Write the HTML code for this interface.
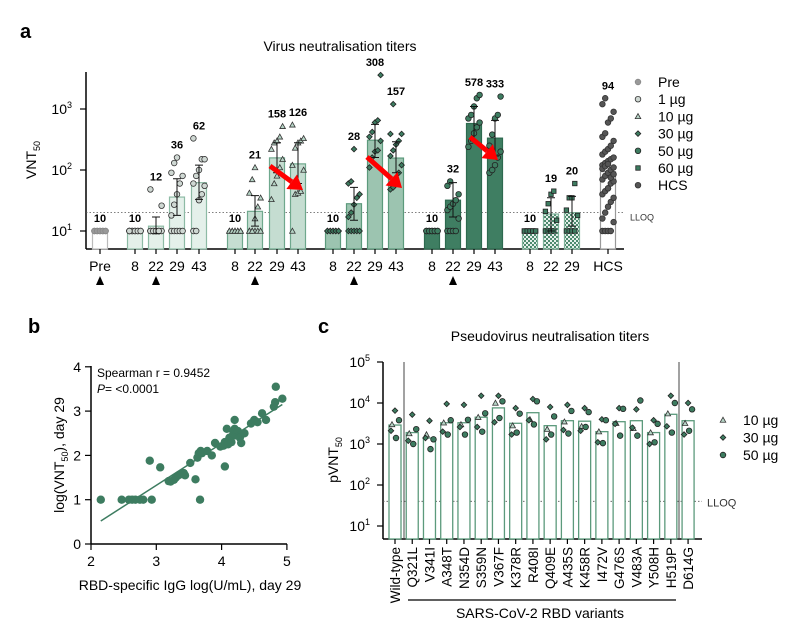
<!DOCTYPE html>
<html><head><meta charset="utf-8"><style>
body{margin:0;background:#fff}
svg{display:block;font-family:"Liberation Sans",sans-serif}
</style></head><body>
<svg id="fig" width="795" height="640" viewBox="0 0 795 640">
<defs>
<pattern id="chk" width="4" height="4" patternUnits="userSpaceOnUse"><rect width="4" height="4" fill="#e6f0eb"/><rect width="2" height="2" fill="#4d8a6e"/><rect x="2" y="2" width="2" height="2" fill="#4d8a6e"/></pattern>
</defs>
<text x="20" y="38" font-size="20" font-weight="bold">a</text>
<text x="340" y="51" font-size="14" text-anchor="middle">Virus neutralisation titers</text>
<text x="28" y="333" font-size="20" font-weight="bold">b</text>
<text x="318" y="333" font-size="20" font-weight="bold">c</text>
<text x="550" y="341" font-size="14" text-anchor="middle">Pseudovirus neutralisation titers</text>
<g id="ga"></g>
<g id="gb"></g>
<g id="gc"></g>
</svg>
<script>
// ---------- Panel a data ----------
const aDays = ["Pre","8","22","29","43","8","22","29","43","8","22","29","43","8","22","29","43","8","22","29","HCS"];
const aGroups = ["pre","1","1","1","1","10","10","10","10","30","30","30","30","50","50","50","50","60","60","60","hcs"];
const aMeans = [10,10,12,36,62,10,21,158,126,10,28,308,157,10,32,578,333,10,19,20,94];
const aErrLo = [10,10,9,18,33,10,12,90,60,10,15,160,90,10,17,300,170,10,10,12,null];
const aErrHi = [10,10,17,72,120,10,38,280,280,10,52,560,290,10,62,1100,650,10,35,37,null];
const aPoints = [
 [10,10,10,10,10,10,10,10,10,10],
 [10,10,10,10,10,10,10,10,10,10,10],
 [10,10,10,10,10,10,10,10,10,26,48],
 [10,10,10,10,10,18,27,40,60,80,90,130,160],
 [10,10,32,40,55,60,80,100,150,150,330],
 [10,10,10,10,10,10,10,10,10,10],
 [10,10,10,10,10,10,10,16,25,35,42,70,110],
 [33,60,80,110,150,220,280,300,350,520],
 [10,40,42,45,100,120,230,280,300,330,550],
 [10,10,10,10,10,10,10,10,10,10],
 [10,10,10,10,10,17,20,27,35,40,60,65,220],
 [110,160,200,210,300,350,420,600,650,3600],
 [48,52,70,90,120,170,210,260,300,390,390,1200],
 [10,10,10,10,10,10,10,10,10,10],
 [10,10,10,10,16,22,25,28,32,40,55,65],
 [240,300,400,500,600,700,800,1100,1500,1700],
 [90,100,120,160,200,250,380,700,800,1600],
 [10,10,10,10,10,10,10,10,10,10],
 [10,10,10,10,15,21,28,40,45],
 [10,10,10,10,18,22,35,35,60],
 [10,10,10,10,14,16,20,25,30,35,40,45,50,60,65,70,80,90,100,110,120,130,140,150,160,180,200,220,250,300,350,400,600,700,900,1200,1500,50,75,85,105,115,125]
];
const aTicks = [10,100,1000];
const aTickLabels = ["1","2","3"];
// ---------- Panel b data ----------
const bX = [2.15,2.47,2.58,2.63,2.68,2.75,2.8,2.93,2.9,3.06,3.19,3.22,3.27,3.3,3.34,3.38,3.42,3.44,3.52,3.6,3.63,3.65,3.68,3.7,3.78,3.85,3.9,3.98,4.03,4.05,4.08,4.1,4.12,4.13,4.15,4.18,4.2,4.2,4.22,4.25,4.28,4.3,4.35,4.45,4.5,4.55,4.62,4.68,4.8,4.82,4.83,4.93,3.67,4.05];
const bY = [1,1,1,1,1,1,1,1,1.88,1.73,1.42,1.41,1.45,1.5,1.55,1.58,1.6,1.55,1.83,1.46,1.95,2.05,2.1,2.05,2.1,2,2.28,2.2,2.22,2.3,2.6,2.25,2.4,2.35,2.3,2.5,2.8,2.6,2.45,2.55,2.4,2.28,2.5,2.72,2.8,2.75,2.95,2.8,3.1,3.2,3.55,3.28,1,1.75];
const bFitX = [2.15,4.93];
const bFitY = [0.52,3.15];
// ---------- Panel c data ----------
const cCats = ["Wild-type","Q321L","V341I","A348T","N354D","S359N","V367F","K378R","R408I","Q409E","A435S","K458R","I472V","G476S","V483A","Y508H","H519P","D614G"];
const cBars = [2900,1900,1400,3300,3300,4500,7600,3200,5800,2800,3700,3600,2000,3500,3700,1900,5300,3700];
const c10 = [3000,1800,1700,3300,3000,4500,10000,2800,4000,2300,3500,2700,2000,3200,2400,1900,5500,3200];
const c30a = [6500,5200,3700,9500,9000,15000,15000,7500,12500,8000,9000,7500,4000,7500,7000,3800,15000,10000];
const c30b = [2100,1200,1400,2000,2600,2600,3400,1700,3800,1300,2200,2100,1100,3100,2500,1000,2700,1700];
const c50a = [3800,2300,1300,3800,3900,5600,11000,5500,11000,4700,6400,6000,3800,7200,11500,3100,10000,7000];
const c50b = [1400,1000,750,1700,1700,2000,4300,1900,3000,1700,1800,2600,1050,1600,1600,1100,1900,2100];

const NS="http://www.w3.org/2000/svg";
function mk(parent,tag,attrs,text){const e=document.createElementNS(NS,tag);for(const k in attrs)e.setAttribute(k,attrs[k]);if(text!==undefined)e.textContent=text;parent.appendChild(e);return e;}
function marker(g,shape,x,y,r,fill,stroke){
 if(shape==="tri") return mk(g,"polygon",{points:`${x},${y-r} ${x-r},${y+r*0.8} ${x+r},${y+r*0.8}`,fill:fill,stroke:stroke,"stroke-width":0.8});
 if(shape==="dia") return mk(g,"polygon",{points:`${x},${y-r} ${x+r},${y} ${x},${y+r} ${x-r},${y}`,fill:fill,stroke:stroke,"stroke-width":0.8});
 if(shape==="sq") return mk(g,"rect",{x:x-r*0.8,y:y-r*0.8,width:r*1.6,height:r*1.6,fill:fill,stroke:stroke,"stroke-width":0.8});
 return mk(g,"circle",{cx:x,cy:y,r:r,fill:fill,stroke:stroke,"stroke-width":0.8});
}
// ===== Panel a =====
(function(){
const g=document.getElementById("ga");
const ya=v=>231-(Math.log10(v)-1)*61;
const xa=i=>{const idx=[100,135,156,177,199,235,255,277,298,333,354,375,396,432,453,474,495,530,551,572,608];return idx[i];};
const style={pre:{fill:"#fff",stroke:"#bbb",pf:"#999",ps:"#888",sh:"circle"},
 "1":{fill:"#e4f0ea",stroke:"#8dbba5",pf:"#cfd8d3",ps:"#333",sh:"circle"},
 "10":{fill:"#c5ddd1",stroke:"#6fa88d",pf:"#b6d4c6",ps:"#333",sh:"tri"},
 "30":{fill:"#9cc4b0",stroke:"#5c9a7c",pf:"#3d7c60",ps:"#222",sh:"dia"},
 "50":{fill:"#3f7e62",stroke:"#2d6a4f",pf:"#3d7c60",ps:"#222",sh:"circle"},
 "60":{fill:"url(#chk)",stroke:"#7fb29a",pf:"#3d7c60",ps:"#222",sh:"sq"},
 hcs:{fill:"#fff",stroke:"#999",pf:"#555",ps:"#333",sh:"circle"}};
let ax=mk(g,"line",{x1:86,y1:72,x2:86,y2:249,stroke:"#000","stroke-width":1.5});

let bx=mk(g,"line",{x1:86,y1:249,x2:624,y2:249,stroke:"#000","stroke-width":1.5});

aTicks.forEach((t,i)=>{const y=ya(t);
 mk(g,"line",{x1:80,y1:y,x2:86,y2:y,stroke:"#000","stroke-width":1.2});
 const tx=mk(g,"text",{x:72,y:y+5,"font-size":14,"text-anchor":"end"},"10");
 
 mk(tx,"tspan",{dy:-6,"font-size":9},aTickLabels[i]);
});
const yt=mk(g,"text",{x:0,y:0,"font-size":14,"text-anchor":"middle",transform:"translate(36,160) rotate(-90)"},"VNT");

mk(yt,"tspan",{dy:4,"font-size":9},"50");
const ll=mk(g,"line",{x1:86,y1:ya(20),x2:624,y2:ya(20),stroke:"#555","stroke-width":0.8,"stroke-dasharray":"1.5,2"});

const lt=mk(g,"text",{x:630,y:ya(20)+8,"font-size":9,fill:"#333"},"LLOQ");

aMeans.forEach((m,i)=>{
 const x=xa(i),st=style[aGroups[i]],w=15;
 const b=mk(g,"rect",{x:x-w/2,y:ya(m),width:w,height:249-ya(m),fill:st.fill,stroke:st.stroke,"stroke-width":1.2});
 
 
 const pts=aPoints[i];
 pts.forEach((v,j)=>{
  const off=((j%5)-2)*2.8;
  const p=marker(g,st.sh,x+off,ya(v),2.8,st.pf,st.ps);
  
 });
 if(aErrLo[i]!==null && aErrHi[i]!==aErrLo[i]){
  const e=mk(g,"path",{d:`M${x},${ya(aErrLo[i])}V${ya(aErrHi[i])}M${x-4},${ya(aErrLo[i])}H${x+4}M${x-4},${ya(aErrHi[i])}H${x+4}`,stroke:"#111","stroke-width":1,fill:"none"});
  
 }
 const top=Math.min(ya(m),ya(Math.max(...pts)),aErrHi[i]?ya(aErrHi[i]):999);
 const lbl=mk(g,"text",{x:x,y:top-9,"font-size":11,"font-weight":"bold","text-anchor":"middle"},String(m));
 
 mk(g,"line",{x1:x,y1:249,x2:x,y2:254,stroke:"#000","stroke-width":1.2});
 const dl=mk(g,"text",{x:x,y:271,"font-size":14,"text-anchor":"middle"},aDays[i]);
 
});
[100,156,255,354,453].forEach(x=>{const t=mk(g,"polygon",{points:`${x},${276} ${x-4},${285} ${x+4},${285}`,fill:"#000"});});
[[270,166,303,190],[367,157,402,188],[470,137,498,160]].forEach(a=>{
 const [x1,y1,x2,y2]=a,ang=Math.atan2(y2-y1,x2-x1),L=14;
 const bx2=x2-L*Math.cos(ang),by2=y2-L*Math.sin(ang);
 const s=mk(g,"line",{x1:x1,y1:y1,x2:bx2,y2:by2,stroke:"#f00","stroke-width":5});
 
 const px=-Math.sin(ang)*9,py=Math.cos(ang)*9;
 mk(g,"polygon",{points:`${x2},${y2} ${bx2+px},${by2+py} ${bx2-px},${by2-py}`,fill:"#f00"});
});
const leg=[["Pre","circle","#999","#888"],["1 µg","circle","#cfd8d3","#333"],["10 µg","tri","#b6d4c6","#333"],["30 µg","dia","#3d7c60","#222"],["50 µg","circle","#3d7c60","#222"],["60 µg","sq","#3d7c60","#222"],["HCS","circle","#555","#333"]];
leg.forEach((l,i)=>{const y=82+i*17.2;
 marker(g,l[1],638,y,2.8,l[2],l[3]);
 const t=mk(g,"text",{x:658,y:y+5,"font-size":14},l[0]);
 
});
})();
// ===== Panel b =====
(function(){
const g=document.getElementById("gb");
const xb=v=>91+(v-2)*65.3, yb=v=>544-v*44.3;
const ax=mk(g,"line",{x1:91,y1:366,x2:91,y2:544,stroke:"#000","stroke-width":1.5});

const bx=mk(g,"line",{x1:91,y1:544,x2:287,y2:544,stroke:"#000","stroke-width":1.5});

[0,1,2,3,4].forEach(v=>{mk(g,"line",{x1:85,y1:yb(v),x2:91,y2:yb(v),stroke:"#000","stroke-width":1.2});
 const t=mk(g,"text",{x:81,y:yb(v)+5,"font-size":14,"text-anchor":"end"},String(v));});
[2,3,4,5].forEach(v=>{mk(g,"line",{x1:xb(v),y1:544,x2:xb(v),y2:550,stroke:"#000","stroke-width":1.2});
 const t=mk(g,"text",{x:xb(v),y:566,"font-size":14,"text-anchor":"middle"},String(v));});
const xt=mk(g,"text",{x:190,y:590,"font-size":14,"text-anchor":"middle"},"RBD-specific IgG log(U/mL), day 29");

const yt=mk(g,"text",{x:0,y:0,"font-size":14,"text-anchor":"middle",transform:"translate(64,455) rotate(-90)"},"log(VNT");

mk(yt,"tspan",{dy:4,"font-size":9},"50");
mk(yt,"tspan",{dy:-4},"), day 29");
bX.forEach((v,i)=>{const c=mk(g,"circle",{cx:xb(v),cy:yb(bY[i]),r:4.2,fill:"#3d7c60"});});
const fl=mk(g,"line",{x1:xb(bFitX[0]),y1:yb(bFitY[0]),x2:xb(bFitX[1]),y2:yb(bFitY[1]),stroke:"#3d7c60","stroke-width":1.5});

const s1=mk(g,"text",{x:97,y:377,"font-size":12},"Spearman r =  0.9452");
const s2=mk(g,"text",{x:97,y:393,"font-size":12});
mk(s2,"tspan",{"font-style":"italic"},"P");mk(s2,"tspan",{},"= <0.0001");
})();
// ===== Panel c =====
(function(){
const g=document.getElementById("gc");
const yc=v=>526-(Math.log10(v)-1)*41;
const xc=i=>395+i*17.24;
const ax=mk(g,"line",{x1:383,y1:362,x2:383,y2:539,stroke:"#000","stroke-width":1.5});
const bx=mk(g,"line",{x1:383,y1:539,x2:702,y2:539,stroke:"#000","stroke-width":1.5});
[10,100,1000,10000,100000].forEach((t,i)=>{const y=yc(t);
 mk(g,"line",{x1:377,y1:y,x2:383,y2:y,stroke:"#000","stroke-width":1.2});
 const tx=mk(g,"text",{x:370,y:y+5,"font-size":14,"text-anchor":"end"},"10");
 mk(tx,"tspan",{dy:-6,"font-size":9},String(i+1));});
const yt=mk(g,"text",{x:0,y:0,"font-size":14,"text-anchor":"middle",transform:"translate(338,460) rotate(-90)"},"pVNT");

mk(yt,"tspan",{dy:4,"font-size":9},"50");
const ll=mk(g,"line",{x1:383,y1:yc(40),x2:702,y2:yc(40),stroke:"#555","stroke-width":0.8,"stroke-dasharray":"1.5,2"});
const lt=mk(g,"text",{x:707,y:yc(40)+5,"font-size":11,fill:"#333"},"LLOQ");
[404,679].forEach(x=>{const l=mk(g,"line",{x1:x,y1:362,x2:x,y2:539,stroke:"#444","stroke-width":1});});
cCats.forEach((c,i)=>{const x=xc(i),w=12;
 const b=mk(g,"rect",{x:x-w/2,y:yc(cBars[i]),width:w,height:539-yc(cBars[i]),fill:"#fff",stroke:"#5c9a7c","stroke-width":1.3});
 
 marker(g,"tri",x-3,yc(c10[i]),2.8,"#b6d4c6","#333");
 marker(g,"dia",x,yc(c30a[i]),2.8,"#3d7c60","#222");
 marker(g,"dia",x-4,yc(c30b[i]),2.8,"#3d7c60","#222");
 marker(g,"circle",x+4,yc(c50a[i]),2.8,"#3d7c60","#222");
 marker(g,"circle",x+1,yc(c50b[i]),2.8,"#3d7c60","#222");
 mk(g,"line",{x1:x,y1:539,x2:x,y2:544,stroke:"#000","stroke-width":1.2});
 const t=mk(g,"text",{x:0,y:0,"font-size":13.5,"text-anchor":"end",transform:`translate(${x+5},547) rotate(-90)`},c);
 
});
const ul=mk(g,"line",{x1:408,y1:600,x2:676,y2:600,stroke:"#000","stroke-width":1.3});
const gl=mk(g,"text",{x:540,y:618,"font-size":14,"text-anchor":"middle"},"SARS-CoV-2  RBD variants");
[["10 µg","tri","#b6d4c6","#333"],["30 µg","dia","#3d7c60","#222"],["50 µg","circle","#3d7c60","#222"]].forEach((l,i)=>{const y=420+i*17.5;
 marker(g,l[1],723,y,2.8,l[2],l[3]);
 const t=mk(g,"text",{x:743,y:y+5,"font-size":14},l[0]);});
})();
</script>
</body></html>
